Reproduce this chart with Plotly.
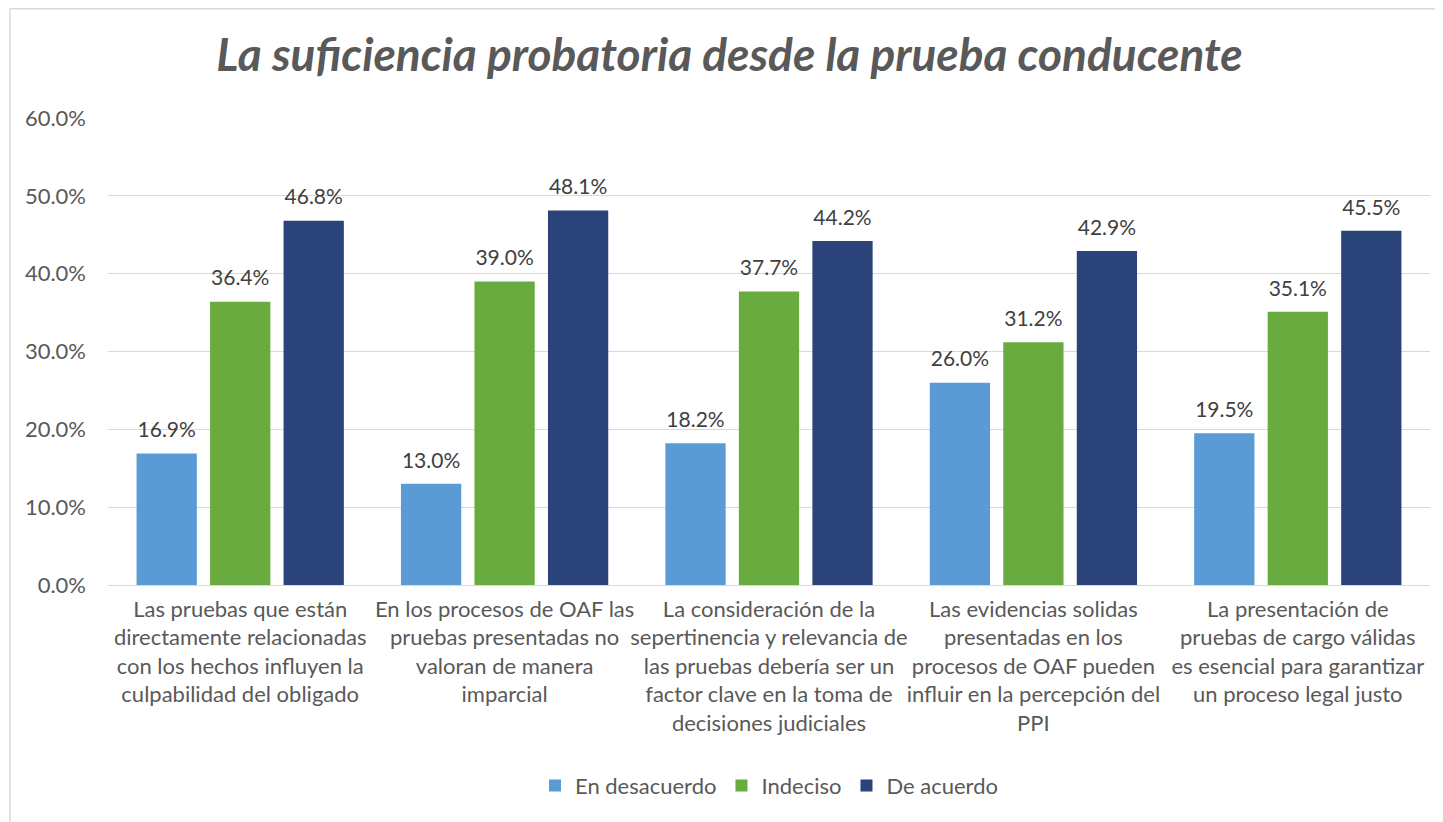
import plotly.graph_objects as go

categories = [
    "Las pruebas que están<br>directamente relacionadas<br>con los hechos influyen la<br>culpabilidad del obligado",
    "En los procesos de OAF las<br>pruebas presentadas no<br>valoran de manera<br>imparcial",
    "La consideración de la<br>sepertinencia y relevancia de<br>las pruebas debería ser un<br>factor clave en la toma de<br>decisiones judiciales",
    "Las evidencias solidas<br>presentadas en los<br>procesos de OAF pueden<br>influir en la percepción del<br>PPI",
    "La presentación de<br>pruebas de cargo válidas<br>es esencial para garantizar<br>un proceso legal justo",
]
series_names = ["En desacuerdo", "Indeciso", "De acuerdo"]
en_desacuerdo = [16.9, 13.0, 18.2, 26.0, 19.5]
indeciso = [36.4, 39.0, 37.7, 31.2, 35.1]
de_acuerdo = [46.8, 48.1, 44.2, 42.9, 45.5]
colors = ["#5b9bd5", "#6aab40", "#2a4379"]

FONT = "Lato"
GAP = 0.166
fig = go.Figure()
for k, (name, vals, col) in enumerate(zip(series_names, [en_desacuerdo, indeciso, de_acuerdo], colors)):
    fig.add_trace(go.Bar(
        x=categories, y=vals, name=name, offsetgroup=str(k),
        marker=dict(color=col, line=dict(width=0)),
        hoverinfo="skip",
    ))
for k, (name, vals) in enumerate(zip(series_names, [en_desacuerdo, indeciso, de_acuerdo])):
    fig.add_trace(go.Scatter(
        x=categories, y=vals, name=name, offsetgroup=str(k), mode="markers+text",
        text=[f"{v:.1f}%" for v in vals], textposition="top center",
        marker=dict(size=16, color="rgba(0,0,0,0)"),
        textfont=dict(family=FONT, size=21, color="#404040"),
        showlegend=False, cliponaxis=False, hoverinfo="skip",
    ))

L, T = 100, 110
W, H = 1322, 467
fig.update_layout(
    width=1443, height=822,
    paper_bgcolor="white", plot_bgcolor="white",
    margin=dict(l=L, r=1443 - L - W, t=T, b=822 - T - H),
    barmode="group", bargap=GAP, bargroupgap=0.18,
    scattermode="group", scattergap=GAP,
    title=dict(text="<b><i>La suficiencia probatoria desde la prueba conducente</i></b>",
               x=0.5, xanchor="center", y=0.9428, yanchor="middle",
               font=dict(family=FONT, size=46, color="#595959")),
    font=dict(family=FONT, color="#595959"),
    legend=dict(orientation="h", x=0.5, xanchor="center", y=-0.43, yanchor="middle",
                font=dict(family=FONT, size=22, color="#595959"), traceorder="normal"),
    yaxis=dict(range=[0, 60], dtick=10, tickformat=".1f", ticksuffix="%",
               showgrid=True, gridcolor="#d9d9d9", gridwidth=1.3, zeroline=False,
               showline=False, tickfont=dict(family=FONT, size=22, color="#595959"),
               ticks="", ticklabelstandoff=21),
    xaxis=dict(showline=True, linecolor="#d9d9d9", linewidth=1.3, ticks="",
               tickfont=dict(family=FONT, size=22, color="#595959"), tickangle=0,
               ticklabelstandoff=4),
    shapes=[
        dict(type="line", xref="paper", yref="paper",
             x0=(2 - L) / W, x1=(1432 - L) / W, y0=(T + H - 0.8) / H, y1=(T + H - 0.8) / H,
             line=dict(color="#d9d9d9", width=1.5)),
        dict(type="line", xref="paper", yref="paper",
             x0=(2 - L) / W, x1=(2 - L) / W, y0=(T + H - 822) / H, y1=(T + H - 0.8) / H,
             line=dict(color="#d9d9d9", width=1.5)),
    ],
)
fig.write_html("out.html")
